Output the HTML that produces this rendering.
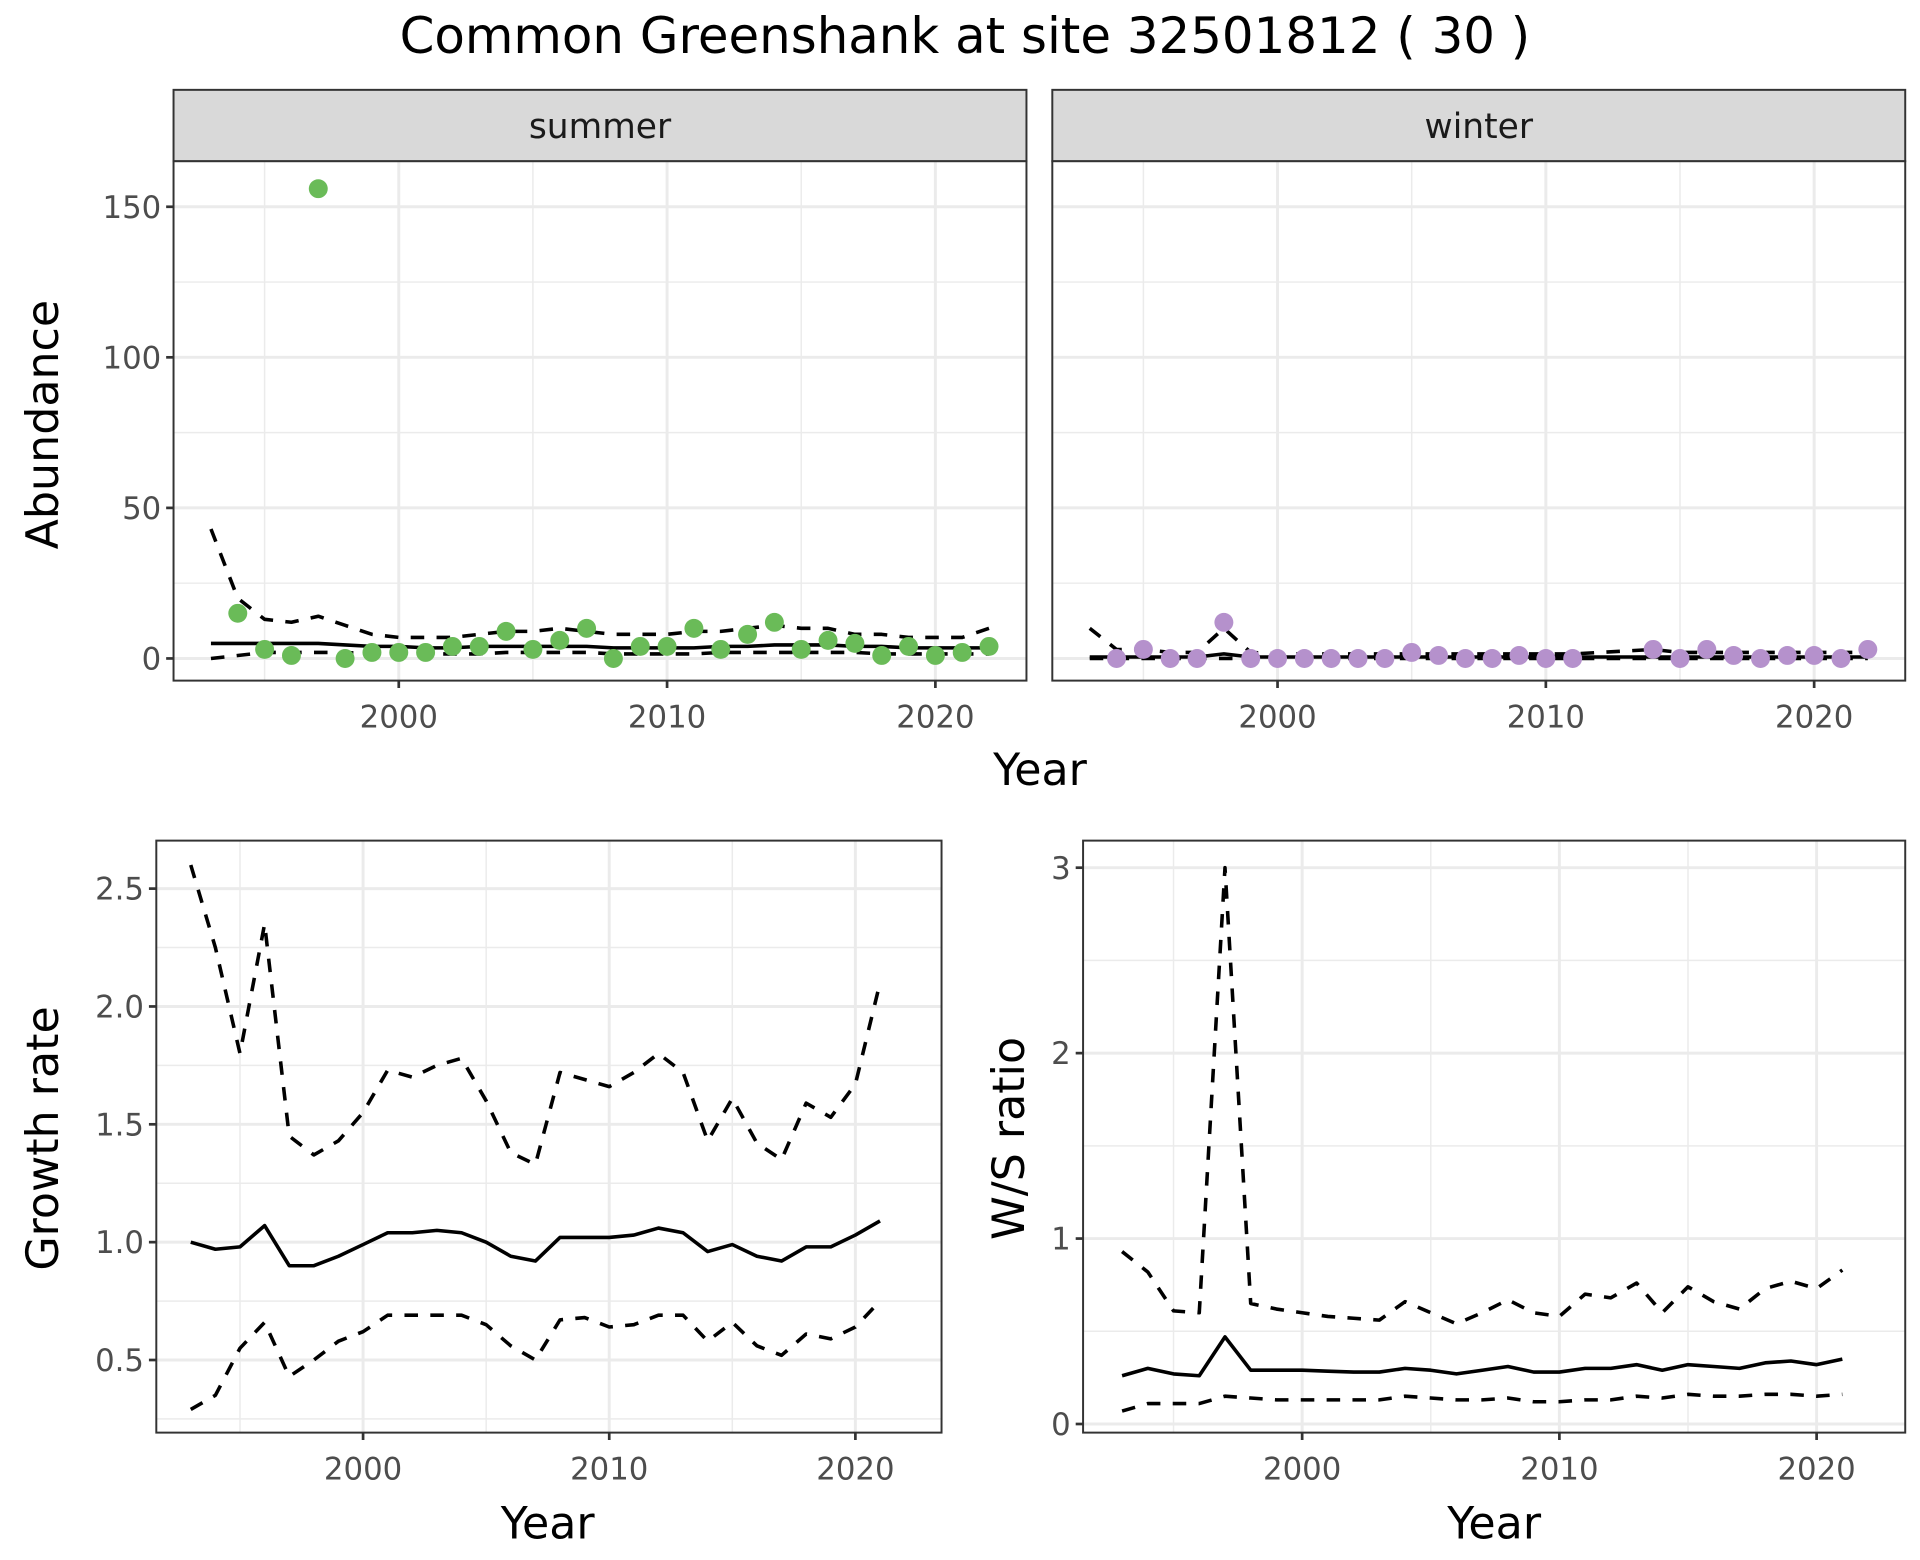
<!DOCTYPE html>
<html><head><meta charset="utf-8">
<style>
html,body{margin:0;padding:0;background:#fff;}
svg{display:block;font-family:"DejaVu Sans","Liberation Sans",sans-serif;}
</style></head>
<body>
<svg id="fig" width="1920" height="1560" viewBox="0 0 1560 1267.5" xmlns="http://www.w3.org/2000/svg">
<rect width="1560" height="1267.5" fill="#fff"/>
<text x="784" y="43" font-size="40.5" text-anchor="middle" fill="#000">Common Greenshank at site 32501812 ( 30 )</text>
</svg>
<script>
// ---- data ----
const pointYears = [1994,1995,1996,1997,1998,1999,2000,2001,2002,2003,2004,2005,2006,2007,2008,2009,2010,2011,2012,2013,2014,2015,2016,2017,2018,2019,2020,2021,2022];
const summerCounts = [15,3,1,156,0,2,2,2,4,4,9,3,6,10,0,4,4,10,3,8,12,3,6,5,1,4,1,2,4];
const fitYears = [1993,1994,1995,1996,1997,1998,1999,2000,2001,2002,2003,2004,2005,2006,2007,2008,2009,2010,2011,2012,2013,2014,2015,2016,2017,2018,2019,2020,2021,2022];
const summerMean = [5,5,5,5,5,4.5,4,4,3.5,3.5,4,4,4,4,4,3.5,3.5,3.5,3.5,4,4,4.5,4.5,4.5,4,4,3.5,3.5,3.5,3.5];
const summerUpper = [43,20,13,12,14,11,8,7,7,7,8,9,9,10,9,8,8,8,9,9,10,11,10,10,8,8,7,7,7,10];
const summerLower = [0,1,2,2,2,2,1.5,1.5,1.5,1.5,1.5,2,2,2,2,1.5,1.5,1.5,1.5,2,2,2,2,2,2,1.5,1.5,1.5,1.5,1.5];
const winterYears = [1994,1995,1996,1997,1998,1999,2000,2001,2002,2003,2004,2005,2006,2007,2008,2009,2010,2011,2014,2015,2016,2017,2018,2019,2020,2021,2022];
const winterCounts = [0,3,0,0,12,0,0,0,0,0,0,2,1,0,0,1,0,0,3,0,3,1,0,1,1,0,3];
const winterMean = [0.5,0.5,0.5,0.5,0.5,1.5,0.5,0.5,0.5,0.5,0.5,0.5,0.5,0.5,0.5,0.5,0.5,0.5,0.5,0.5,0.5,0.5,0.5,0.5,0.5,0.5,0.5,0.5,0.5,0.5];
const winterUpper = [10,3,3,2,2,10,2,1.5,1.5,1.5,1.5,1.5,1.5,1.5,1.5,1.5,1.5,1.5,1.5,2,2.5,3,2,2,2,2,2,2,2,2];
const winterLower = [0,0,0,0,0,0,0,0,0,0,0,0,0,0,0,0,0,0,0,0,0,0,0,0,0,0,0,0,0,0];
const rateYears = [1993,1994,1995,1996,1997,1998,1999,2000,2001,2002,2003,2004,2005,2006,2007,2008,2009,2010,2011,2012,2013,2014,2015,2016,2017,2018,2019,2020,2021];
const growthMean = [1.0,0.97,0.98,1.07,0.90,0.90,0.94,0.99,1.04,1.04,1.05,1.04,1.00,0.94,0.92,1.02,1.02,1.02,1.03,1.06,1.04,0.96,0.99,0.94,0.92,0.98,0.98,1.03,1.09];
const growthUpper = [2.6,2.25,1.8,2.35,1.45,1.37,1.43,1.55,1.73,1.70,1.75,1.78,1.60,1.38,1.33,1.72,1.69,1.66,1.72,1.80,1.72,1.43,1.61,1.42,1.35,1.59,1.53,1.67,2.10];
const growthLower = [0.29,0.35,0.55,0.66,0.43,0.50,0.58,0.62,0.69,0.69,0.69,0.69,0.65,0.56,0.50,0.67,0.68,0.64,0.65,0.69,0.69,0.58,0.66,0.56,0.52,0.61,0.59,0.64,0.75];
const ratioMean = [0.26,0.30,0.27,0.26,0.47,0.29,0.29,0.29,0.285,0.28,0.28,0.30,0.29,0.27,0.29,0.31,0.28,0.28,0.30,0.30,0.32,0.29,0.32,0.31,0.30,0.33,0.34,0.32,0.35];
const ratioUpper = [0.93,0.82,0.61,0.60,3.0,0.65,0.62,0.60,0.58,0.57,0.56,0.66,0.60,0.54,0.60,0.67,0.60,0.58,0.70,0.68,0.76,0.60,0.74,0.66,0.62,0.73,0.77,0.73,0.83];
const ratioLower = [0.07,0.11,0.11,0.11,0.15,0.14,0.13,0.13,0.13,0.13,0.13,0.15,0.14,0.13,0.13,0.14,0.12,0.12,0.13,0.13,0.15,0.14,0.16,0.15,0.15,0.16,0.16,0.15,0.16];
const xTicks = [2000,2010,2020];
const xMinor = [1995,2005,2015];
const abTicks = [0,50,100,150];
const abMinor = [25,75,125];
const grTicks = [0.5,1.0,1.5,2.0,2.5];
const grTickLabels = ["0.5","1.0","1.5","2.0","2.5"];
const grMinor = [0.25,0.75,1.25,1.75,2.25];
const wsTicks = [0,1,2,3];
const wsMinor = [0.5,1.5,2.5];

const NS = "http://www.w3.org/2000/svg";
const svg = document.getElementById('fig');
const TICK_FS = 25;
function mk(tag, attrs, parent){
  const e = document.createElementNS(NS, tag);
  for (const k in attrs) e.setAttribute(k, attrs[k]);
  (parent||svg).appendChild(e);
  return e;
}
function lin(d0,d1,r0,r1){ return v => r0 + (v-d0)*(r1-r0)/(d1-d0); }

function panel(name, box, sx, sy, xt, xm, yt, ylabels, ym, showY){
  const g = mk('g',{});
  
  
  mk('rect',{x:box.x0,y:box.y0,width:box.x1-box.x0,height:box.y1-box.y0,fill:'#fff'},g);
  ym.forEach(v=>mk('line',{x1:box.x0,x2:box.x1,y1:sy(v),y2:sy(v),stroke:'#ebebeb','stroke-width':1.2},g));
  xm.forEach(v=>mk('line',{y1:box.y0,y2:box.y1,x1:sx(v),x2:sx(v),stroke:'#ebebeb','stroke-width':1.2},g));
  yt.forEach(v=>mk('line',{x1:box.x0,x2:box.x1,y1:sy(v),y2:sy(v),stroke:'#ebebeb','stroke-width':2.4},g));
  xt.forEach(v=>mk('line',{y1:box.y0,y2:box.y1,x1:sx(v),x2:sx(v),stroke:'#ebebeb','stroke-width':2.4},g));
  xt.forEach(v=>{
    mk('line',{y1:box.y1,y2:box.y1+6,x1:sx(v),x2:sx(v),stroke:'#333','stroke-width':2.2},g);
    const t = mk('text',{x:sx(v),y:box.y1+38,'font-size':TICK_FS,'text-anchor':'middle',fill:'#4d4d4d'},g);
    
    
    t.textContent = v;
  });
  if (showY) yt.forEach((v,i)=>{
    mk('line',{x1:box.x0-6,x2:box.x0,y1:sy(v),y2:sy(v),stroke:'#333','stroke-width':2.2},g);
    const t = mk('text',{x:box.x0-10,y:sy(v)+9,'font-size':TICK_FS,'text-anchor':'end',fill:'#4d4d4d'},g);
    
    
    t.textContent = ylabels[i];
  });
  return g;
}
function border(box, col){
  mk('rect',{x:box.x0,y:box.y0,width:box.x1-box.x0,height:box.y1-box.y0,fill:'none',stroke:col,'stroke-width':1.6});
}
function line(g, xs, ys, sx, sy, dashed, name){
  const d = xs.map((x,i)=>(i?'L':'M')+sx(x).toFixed(1)+','+sy(ys[i]).toFixed(1)).join(' ');
  const p = mk('path',{d:d,fill:'none',stroke:'#000','stroke-width':2.9,'stroke-dasharray':dashed?'11 10':'none','stroke-linejoin':'round'},g);
  
  
}
function points(g, xs, ys, sx, sy, col, name){
  xs.forEach((x,i)=>{
    const c = mk('circle',{cx:sx(x),cy:sy(ys[i]),r:7.7,fill:col},g);
    
    
  });
}
function label(txt, x, y, rot, size, name){
  const t = mk('text',{x:x,y:y,'font-size':size,'text-anchor':'middle',fill:'#000',transform:rot?`rotate(-90 ${x} ${y})`:''});
  
  
  t.textContent = txt;
}
function strip(x0,x1,txt,name){
  mk('rect',{x:x0,y:73,width:x1-x0,height:58,fill:'#d9d9d9',stroke:'#333','stroke-width':1.6});
  const t = mk('text',{x:(x0+x1)/2,y:112,'font-size':28,'text-anchor':'middle',fill:'#1a1a1a'});
  
  
  t.textContent = txt;
}

// top panels
const abY = lin(0,150,535,168);
const boxS = {x0:141,x1:834,y0:131,y1:553};
const sxS = lin(2000,2020,324,760);
strip(141,834,'summer','strip-summer');
const gS = panel('summer-panel',boxS,sxS,abY,xTicks,xMinor,abTicks,abTicks,abMinor,true);
line(gS,fitYears,summerUpper,sxS,abY,true,'summer-upper-ci');
line(gS,fitYears,summerLower,sxS,abY,true,'summer-lower-ci');
line(gS,fitYears,summerMean,sxS,abY,false,'summer-mean');
points(gS,pointYears,summerCounts,sxS,abY,'#6abb58','summer-count');
border(boxS,'#333');

const boxW = {x0:855,x1:1548,y0:131,y1:553};
const sxW = lin(2000,2020,1038,1474);
strip(855,1548,'winter','strip-winter');
const gW = panel('winter-panel',boxW,sxW,abY,xTicks,xMinor,abTicks,abTicks,abMinor,false);
line(gW,fitYears,winterUpper,sxW,abY,true,'winter-upper-ci');
line(gW,fitYears,winterLower,sxW,abY,true,'winter-lower-ci');
line(gW,fitYears,winterMean,sxW,abY,false,'winter-mean');
points(gW,winterYears,winterCounts,sxW,abY,'#b591cc','winter-count');
border(boxW,'#333');
label('Abundance',47,345,true,36,'y-axis-title-abundance');
label('Year',845,638,false,36,'x-axis-title-top');

// growth rate
const boxG = {x0:127,x1:765,y0:683,y1:1164};
const sxG = lin(2000,2020,295,695);
const syG = lin(0.5,2.5,1105,722);
const gG = panel('growth-panel',boxG,sxG,syG,xTicks,xMinor,grTicks,grTickLabels,grMinor,true);
line(gG,rateYears,growthUpper,sxG,syG,true,'growth-upper-ci');
line(gG,rateYears,growthLower,sxG,syG,true,'growth-lower-ci');
line(gG,rateYears,growthMean,sxG,syG,false,'growth-mean');
border(boxG,'#333');
label('Growth rate',47,925,true,36,'y-axis-title-growth');
label('Year',445,1250,false,36,'x-axis-title-growth');

// W/S ratio
const boxR = {x0:880,x1:1548,y0:683,y1:1164};
const sxR = lin(2000,2020,1058,1476);
const syR = lin(0,3,1157,705);
const gR = panel('ratio-panel',boxR,sxR,syR,xTicks,xMinor,wsTicks,wsTicks,wsMinor,true);
line(gR,rateYears,ratioUpper,sxR,syR,true,'ratio-upper-ci');
line(gR,rateYears,ratioLower,sxR,syR,true,'ratio-lower-ci');
line(gR,rateYears,ratioMean,sxR,syR,false,'ratio-mean');
border(boxR,'#333');
label('W/S ratio',832,925,true,36,'y-axis-title-ratio');
label('Year',1214,1250,false,36,'x-axis-title-ratio');
</script>
</body></html>
